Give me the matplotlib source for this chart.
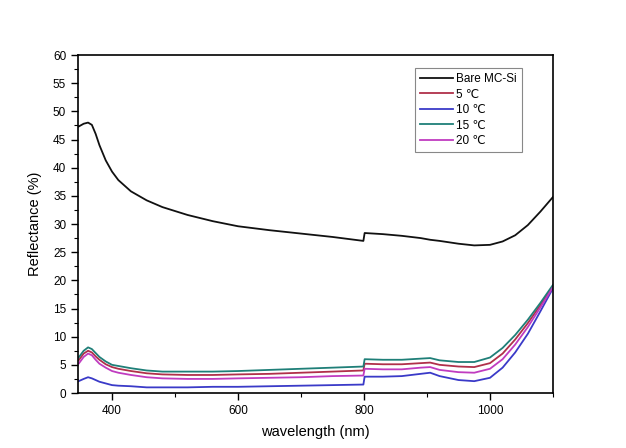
import matplotlib
matplotlib.use("Agg")
import matplotlib.pyplot as plt
from matplotlib.ticker import MultipleLocator

plt.rcParams['font.family'] = ['Liberation Sans', 'DejaVu Sans']

wavelength = [347, 355, 362, 368, 374, 380, 390, 400, 410, 430, 455, 480, 520, 560, 600, 650,
              700, 750, 799, 801, 830, 860, 890, 905, 920, 950, 975, 1000, 1020, 1040,
              1060, 1080, 1100]

bare = [47.3, 47.8, 48.0, 47.6, 46.0, 44.0, 41.3, 39.3, 37.8, 35.8, 34.2, 33.0, 31.6, 30.5, 29.6, 28.9,
        28.3, 27.7, 27.0, 28.4, 28.2, 27.9, 27.5, 27.2, 27.0, 26.5, 26.2, 26.3, 26.9, 28.0,
        29.8, 32.2, 34.8]
t5 = [5.8, 7.0, 7.5, 7.2, 6.5, 5.9, 5.1, 4.6, 4.3, 3.9, 3.5, 3.3, 3.2, 3.2, 3.3, 3.4,
      3.6, 3.8, 4.0, 5.2, 5.1, 5.1, 5.3, 5.4, 5.0, 4.7, 4.6, 5.3, 7.0, 9.5,
      12.4, 15.6, 19.0]
t10 = [2.1, 2.5, 2.8, 2.6, 2.3, 2.0, 1.7, 1.4, 1.3, 1.2, 1.0, 1.0, 1.0, 1.1, 1.1, 1.2,
       1.3, 1.4, 1.5, 2.9, 2.9, 3.0, 3.4, 3.6, 3.0, 2.3, 2.1, 2.7, 4.5, 7.2,
       10.5, 14.5, 18.6]
t15 = [6.3, 7.5, 8.1, 7.8, 7.1, 6.4, 5.6, 5.0, 4.8, 4.4, 4.0, 3.8, 3.8, 3.8, 3.9, 4.1,
       4.3, 4.5, 4.7, 6.0, 5.9, 5.9, 6.1, 6.2, 5.8, 5.5, 5.5, 6.3, 8.0, 10.3,
       13.0, 16.0, 19.2]
t20 = [5.2, 6.4, 7.0, 6.7, 5.9, 5.2, 4.5, 3.9, 3.6, 3.2, 2.8, 2.6, 2.5, 2.5, 2.6, 2.7,
       2.8, 3.0, 3.1, 4.3, 4.2, 4.2, 4.5, 4.6, 4.1, 3.7, 3.6, 4.3, 6.0, 8.6,
       11.7, 15.2, 18.8]

labels = ["Bare MC-Si", "5 \u2103", "10 \u2103", "15 \u2103", "20 \u2103"]
series = [bare, t5, t10, t15, t20]
colors = ["#111111", "#b0304a", "#3a3ac8", "#1f7f78", "#c03cc0"]

fig = plt.figure(figsize=(6.26, 4.48), dpi=100)
ax = fig.add_axes([78/626, 1-393/448, 475/626, 338/448])

for y, lab, c in zip(series, labels, colors):
    ax.plot(wavelength, y, color=c, lw=1.3, label=lab)

ax.set_xlim(346, 1100)
ax.set_ylim(0, 60)
ax.xaxis.set_major_locator(MultipleLocator(200))
ax.xaxis.set_minor_locator(MultipleLocator(100))
ax.yaxis.set_major_locator(MultipleLocator(5))
ax.yaxis.set_minor_locator(MultipleLocator(2.5))
ax.tick_params(which='major', direction='out', length=5, width=1, labelsize=8.5)
ax.tick_params(which='minor', direction='out', length=3, width=0.8)
ax.tick_params(top=False, right=False)
for s in ax.spines.values():
    s.set_linewidth(1.2)

ax.set_xlabel("wavelength (nm)", fontsize=10.5, labelpad=6)
ax.set_ylabel("Reflectance (%)", fontsize=10.5, labelpad=8)

leg = ax.legend(loc='upper right', bbox_to_anchor=(0.948, 0.98), fontsize=8.5,
                handlelength=2.8, handletextpad=0.3, labelspacing=0.3,
                borderpad=0.45, fancybox=False, framealpha=1)
leg.get_frame().set_edgecolor('#888888')
leg.get_frame().set_linewidth(0.8)

fig.savefig("out.png", dpi=100)
